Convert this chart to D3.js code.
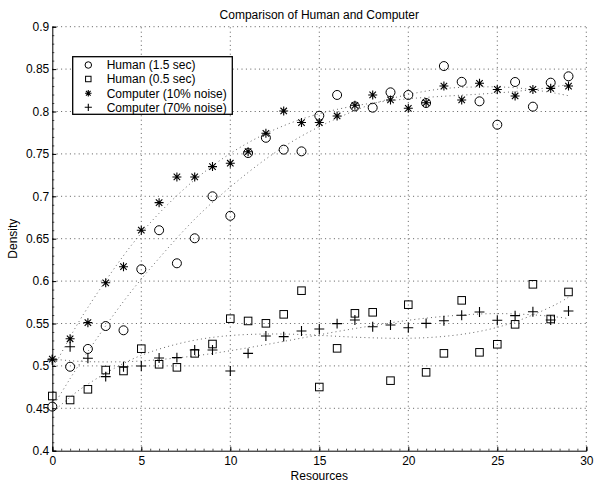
<!DOCTYPE html>
<html>
<head>
<meta charset="utf-8">
<script src="https://cdn.jsdelivr.net/npm/d3@7"></script>
<style>
  html, body { margin: 0; padding: 0; background: #fff; }
  svg { display: block; }
  text { font-family: "Liberation Sans", Arial, Helvetica, sans-serif; fill: #000; }
</style>
</head>
<body>
<svg id="chart" width="594" height="482"></svg>
<script>
// ---- data ----
const resources = [0,1,2,3,4,5,6,7,8,9,10,11,12,13,14,15,16,17,18,19,20,21,22,23,24,25,26,27,28,29];
const human15 = [0.452,0.499,0.520,0.547,0.542,0.614,0.660,0.621,0.6505,0.700,0.677,0.751,0.769,0.755,0.753,0.795,0.8195,0.806,0.8045,0.8226,0.8195,0.810,0.8536,0.835,0.812,0.7844,0.8348,0.8057,0.834,0.8415];
const human05 = [0.4645,0.4598,0.4724,0.4951,0.494,0.5203,0.5019,0.4983,0.5148,0.5258,0.5557,0.553,0.5502,0.5608,0.5887,0.4751,0.5207,0.562,0.5632,0.4826,0.5722,0.4924,0.5148,0.5773,0.516,0.5255,0.549,0.5962,0.5553,0.5872];
const comp10 = [0.508,0.532,0.551,0.598,0.617,0.660,0.6925,0.7228,0.7228,0.735,0.739,0.7526,0.7743,0.8006,0.787,0.787,0.7947,0.8073,0.8195,0.8136,0.8038,0.8104,0.830,0.8136,0.8333,0.826,0.8183,0.826,0.8273,0.830];
const comp70 = [0.507,0.5226,0.509,0.4873,0.499,0.4999,0.5093,0.5097,0.5187,0.5187,0.494,0.5148,0.5353,0.5345,0.5411,0.5435,0.5498,0.5541,0.5462,0.5482,0.545,0.5502,0.5533,0.5597,0.5636,0.5538,0.5593,0.5639,0.5541,0.5647];

// dotted trend curves
const fitX = [0,1,2,4,6,8,10,12,14,16,18,20,22,24,26,28,29];
const fitHuman15 = [0.451,0.485,0.517,0.576,0.627,0.673,0.711,0.744,0.771,0.792,0.809,0.820,0.827,0.829,0.828,0.8225,0.8186];
const fitHuman05 = [0.4454,0.4631,0.4785,0.503,0.5198,0.5303,0.5358,0.5376,0.537,0.5349,0.5331,0.5326,0.5348,0.5407,0.552,0.5695,0.581];
const fitComp10 = [0.4958,0.534,0.569,0.630,0.680,0.7194,0.7505,0.774,0.791,0.8025,0.810,0.815,0.818,0.8205,0.8236,0.8285,0.832];
const fitComp70 = [0.5081,0.5061,0.505,0.5049,0.5074,0.5118,0.5179,0.5251,0.5328,0.5405,0.5475,0.5538,0.5584,0.5612,0.5613,0.5585,0.5557];

const xTicks = [0,5,10,15,20,25,30];
const yTicks = [0.4,0.45,0.5,0.55,0.6,0.65,0.7,0.75,0.8,0.85,0.9];
const yTickLabels = ["0.4","0.45","0.5","0.55","0.6","0.65","0.7","0.75","0.8","0.85","0.9"];
const seriesNames = ["Human (1.5 sec)","Human (0.5 sec)","Computer (10% noise)","Computer (70% noise)"];
const seriesMarkers = ["circle","square","star","plus"];

const title = "Comparison of Human and Computer";
const xTitle = "Resources";
const yTitle = "Density";

// ---- layout ----
const L = 52.3, R = 586.3, T = 26.7, B = 450.7;
const FS = "12px";
const svg = d3.select("#chart");
const x = d3.scaleLinear().domain([0,30]).range([L,R]);
const y = d3.scaleLinear().domain([0.4,0.9]).range([B,T]);

// grid
const grid = svg.append("g").attr("stroke","#333").attr("stroke-width",0.8).attr("stroke-dasharray","1,3.4");
grid.selectAll(".gx").data(xTicks.slice(1)).join("line")
  .attr("x1",d=>x(d)).attr("x2",d=>x(d)).attr("y1",B).attr("y2",T);
grid.selectAll(".gy").data(yTicks.slice(1)).join("line")
  .attr("x1",L).attr("x2",R).attr("y1",d=>y(d)).attr("y2",d=>y(d));

// axes
const xAxis = d3.axisBottom(x).tickValues(xTicks).tickSize(-4).tickPadding(6).tickFormat(d3.format("d"));
const yAxis = d3.axisLeft(y).tickValues(yTicks).tickSize(-4).tickPadding(3).tickFormat((d,i)=>yTickLabels[i]);
const gx = svg.append("g").attr("transform",`translate(0,${B})`).call(xAxis);
const gy = svg.append("g").attr("transform",`translate(${L},0)`).call(yAxis);
[gx,gy].forEach(g=>{
  g.select(".domain").attr("stroke","#000").attr("stroke-width",1);
  g.selectAll(".tick line").attr("stroke","#000");
  g.selectAll(".tick text").style("font-size",FS).attr("fill","#000");
});
// minor ticks
const xMinor = d3.axisBottom(x).ticks(60).tickSize(-2).tickFormat("");
const yMinor = d3.axisLeft(y).ticks(50).tickSize(-2).tickFormat("");
svg.append("g").attr("transform",`translate(0,${B})`).call(xMinor)
  .call(g=>{g.select(".domain").remove(); g.selectAll("line").attr("stroke","#000").attr("stroke-width",0.7);});
svg.append("g").attr("transform",`translate(${L},0)`).call(yMinor)
  .call(g=>{g.select(".domain").remove(); g.selectAll("line").attr("stroke","#000").attr("stroke-width",0.7);});

// trend curves
const line = d3.line().x((d,i)=>x(fitX[i])).y(d=>y(d)).curve(d3.curveNatural);
[fitHuman15, fitHuman05, fitComp10, fitComp70].forEach(f=>{
  svg.append("path").datum(f).attr("d",line).attr("fill","none")
    .attr("stroke","#555").attr("stroke-width",0.9).attr("stroke-dasharray","1,3.2");
});

// markers
function drawMarker(g, type, cx, cy, s) {
  if (type==="circle") {
    g.append("circle").attr("cx",cx).attr("cy",cy).attr("r",s*0.5).attr("fill","none").attr("stroke","#000").attr("stroke-width",1);
  } else if (type==="square") {
    g.append("rect").attr("x",cx-s*0.42).attr("y",cy-s*0.42).attr("width",s*0.84).attr("height",s*0.84)
      .attr("fill","none").attr("stroke","#000").attr("stroke-width",1);
  } else if (type==="plus") {
    const h = s*0.55;
    g.append("path").attr("d",`M${cx-h},${cy}H${cx+h}M${cx},${cy-h}V${cy+h}`).attr("stroke","#000").attr("stroke-width",1.1);
  } else if (type==="star") {
    const h = s*0.5, d = h*0.72;
    g.append("path").attr("d",`M${cx-h},${cy}H${cx+h}M${cx},${cy-h}V${cy+h}M${cx-d},${cy-d}L${cx+d},${cy+d}M${cx-d},${cy+d}L${cx+d},${cy-d}`)
      .attr("stroke","#000").attr("stroke-width",1.1);
  }
}
const seriesData = [human15, human05, comp10, comp70];
const mg = svg.append("g");
seriesData.forEach((vals,si)=>{
  resources.forEach((r,i)=>drawMarker(mg, seriesMarkers[si], x(r), y(vals[i]), 9));
});

// title & labels
svg.append("text").attr("x",(L+R)/2).attr("y",18.5).attr("text-anchor","middle").style("font-size",FS).text(title);
svg.append("text").attr("x",(L+R)/2).attr("y",480).attr("text-anchor","middle").style("font-size",FS).text(xTitle);
svg.append("text").attr("transform",`translate(17,${(T+B)/2}) rotate(-90)`).attr("text-anchor","middle").style("font-size",FS).text(yTitle);

// legend
const lg = svg.append("g");
lg.append("rect").attr("x",72.7).attr("y",56.7).attr("width",159.6).attr("height",57.6)
  .attr("fill","#fff").attr("stroke","#000").attr("stroke-width",1.3);
const rowY = [65,79,93.3,107.3];
seriesNames.forEach((n,i)=>{
  drawMarker(lg, seriesMarkers[i], 88.3, rowY[i], 6.5);
  lg.append("text").attr("x",106.7).attr("y",rowY[i]+4.2).style("font-size",FS).text(n);
});
</script>
</body>
</html>
